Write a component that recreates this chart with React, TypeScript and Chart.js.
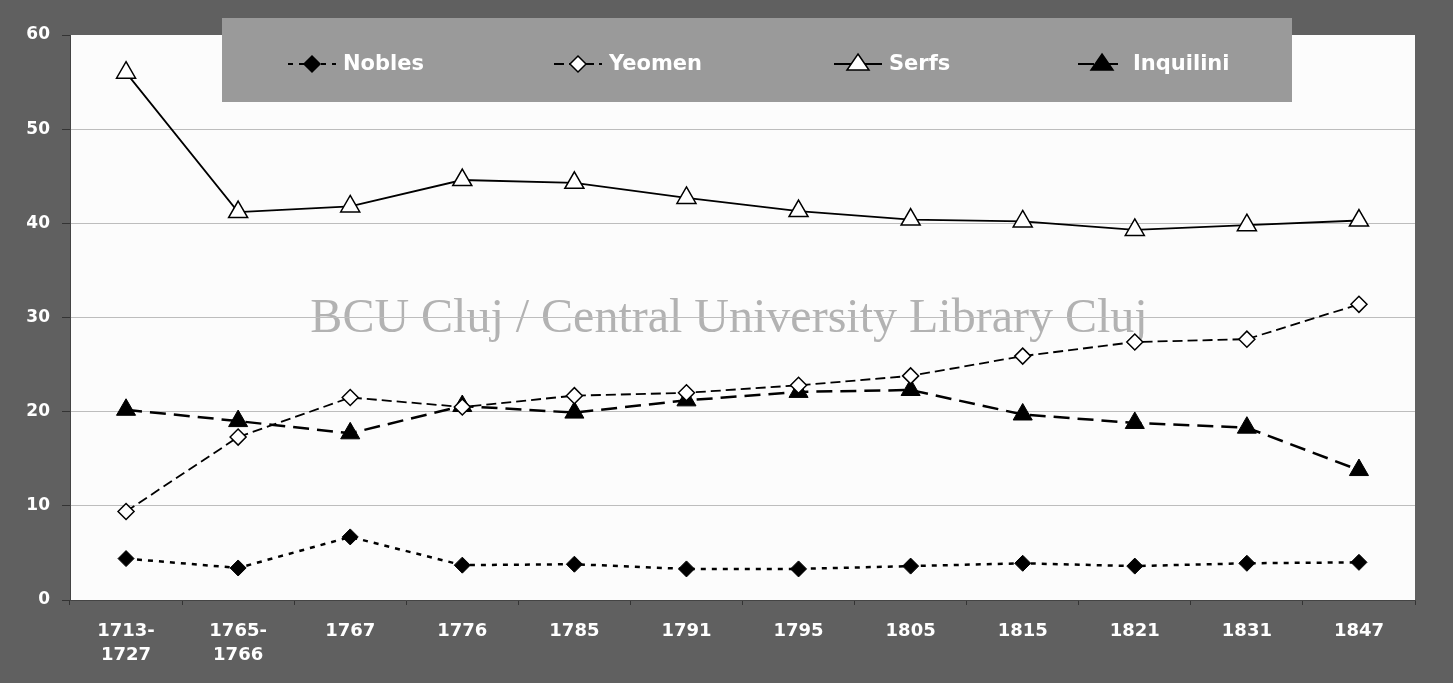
import React, { useEffect, useRef } from "react";
import { Chart, registerables } from "chart.js";

Chart.register(...registerables);

const categories: (string | string[])[] = [
  ["1713-", "1727"], ["1765-", "1766"], "1767", "1776", "1785", "1791",
  "1795", "1805", "1815", "1821", "1831", "1847",
];
const nobles = [4.4, 3.4, 6.7, 3.7, 3.8, 3.3, 3.3, 3.6, 3.9, 3.6, 3.9, 4.0];
const yeomen = [9.4, 17.3, 21.5, 20.5, 21.7, 22.0, 22.8, 23.8, 25.9, 27.4, 27.7, 31.4];
const serfs = [56.0, 41.2, 41.8, 44.6, 44.3, 42.7, 41.3, 40.4, 40.2, 39.3, 39.8, 40.3];
const inquilini = [20.2, 19.0, 17.7, 20.6, 19.9, 21.2, 22.1, 22.3, 19.7, 18.8, 18.3, 13.8];
const yTicks = [0, 10, 20, 30, 40, 50, 60];
const watermark = "BCU Cluj / Central University Library Cluj";

const W = 1453;
const H = 683;

const bgPlugin = {
  id: "bgPlugin",
  beforeDraw(chart: any) {
    const { ctx, chartArea } = chart;
    ctx.save();
    ctx.fillStyle = "#606060";
    ctx.fillRect(0, 0, chart.width, chart.height);
    ctx.fillStyle = "#fcfcfc";
    ctx.fillRect(chartArea.left, chartArea.top, chartArea.right - chartArea.left, chartArea.bottom - chartArea.top);
    ctx.font = "48px 'Liberation Serif', 'Times New Roman', serif";
    ctx.fillStyle = "rgba(150,150,150,0.72)";
    ctx.textAlign = "center";
    ctx.textBaseline = "alphabetic";
    ctx.fillText(watermark, 729, 332);
    ctx.restore();
  },
};

const legendPlugin = {
  id: "customLegend",
  afterDraw(chart: any) {
    const { ctx } = chart;
    ctx.save();
    ctx.fillStyle = "#9a9a9a";
    ctx.fillRect(222, 18, 1070, 84);
    const itemX = [312, 578, 858, 1102];
    const y = 64;
    chart.data.datasets.forEach((ds: any, i: number) => {
      const cx = itemX[i];
      ctx.strokeStyle = "#000";
      ctx.lineWidth = 2;
      ctx.setLineDash(ds.borderDash || []);
      ctx.beginPath();
      ctx.moveTo(cx - 24, y);
      ctx.lineTo(cx + 24, y);
      ctx.stroke();
      ctx.setLineDash([]);
      const r = ds.pointStyle === "triangle" ? 10 : 8;
      drawMarker(ctx, ds.pointStyle, cx, y, r, ds.pointBackgroundColor);
      ctx.fillStyle = "#ffffff";
      ctx.font = "bold 21px 'DejaVu Sans', Verdana, sans-serif";
      ctx.textAlign = "left";
      ctx.textBaseline = "middle";
      ctx.fillText(ds.label, cx + 31, y + 1);
    });
    ctx.restore();
  },
};

function drawMarker(ctx: CanvasRenderingContext2D, style: string, x: number, y: number, r: number, fill: string) {
  ctx.beginPath();
  if (style === "triangle") {
    ctx.moveTo(x, y - r);
    ctx.lineTo(x + r * 1.1, y + r * 0.6);
    ctx.lineTo(x - r * 1.1, y + r * 0.6);
    ctx.closePath();
  } else {
    ctx.moveTo(x, y - r);
    ctx.lineTo(x + r, y);
    ctx.lineTo(x, y + r);
    ctx.lineTo(x - r, y);
    ctx.closePath();
  }
  ctx.fillStyle = fill;
  ctx.fill();
  ctx.strokeStyle = "#000";
  ctx.lineWidth = 1.5;
  ctx.stroke();
}

export default function App() {
  const ref = useRef<HTMLCanvasElement>(null);
  useEffect(() => {
    document.body.style.margin = "0";
    const chart = new Chart(ref.current as HTMLCanvasElement, {
      type: "line",
      data: {
        labels: categories,
        datasets: [
          {
            label: "Nobles",
            data: nobles,
            borderColor: "#000",
            borderWidth: 2.5,
            borderDash: [5, 6],
            pointStyle: "rectRot",
            pointRadius: 8,
            pointBackgroundColor: "#000",
            pointBorderColor: "#000",
            pointBorderWidth: 1,
          },
          {
            label: "Yeomen",
            data: yeomen,
            borderColor: "#000",
            borderWidth: 1.8,
            borderDash: [10, 5],
            pointStyle: "rectRot",
            pointRadius: 8,
            pointBackgroundColor: "#fff",
            pointBorderColor: "#000",
            pointBorderWidth: 1.5,
          },
          {
            label: "Serfs",
            data: serfs,
            borderColor: "#000",
            borderWidth: 1.8,
            borderDash: [],
            pointStyle: "triangle",
            pointRadius: 11,
            pointBackgroundColor: "#fff",
            pointBorderColor: "#000",
            pointBorderWidth: 1.5,
          },
          {
            label: "Inquilini",
            data: inquilini,
            borderColor: "#000",
            borderWidth: 2.5,
            borderDash: [16, 8],
            pointStyle: "triangle",
            pointRadius: 11,
            pointBackgroundColor: "#000",
            pointBorderColor: "#000",
            pointBorderWidth: 1,
          },
        ],
      },
      options: {
        animation: false,
        responsive: false,
        layout: { padding: { left: 0, right: 38, top: 35, bottom: 0 } },
        plugins: {
          legend: { display: false },
          tooltip: { enabled: false },
        },
        scales: {
          x: {
            offset: true,
            grid: {
              offset: true,
              drawOnChartArea: false,
              drawTicks: true,
              tickLength: 5,
              tickColor: "#333",
            },
            border: { display: true, color: "#444", width: 1 },
            ticks: {
              color: "#ffffff",
              padding: 14,
              maxRotation: 0,
              autoSkip: false,
              font: { family: "'DejaVu Sans', Verdana, sans-serif", size: 18, weight: "bold", lineHeight: 1.33 },
            },
            afterFit(scale: any) {
              scale.height = 83;
            },
          },
          y: {
            min: 0,
            max: 60,
            afterBuildTicks(scale: any) {
              scale.ticks = yTicks.map((v) => ({ value: v }));
            },
            grid: {
              color: (c: any) => (c.tick && (c.tick.value === 0 || c.tick.value === 60) ? "rgba(0,0,0,0)" : "#bdbdbd"),
              tickColor: "#333",
              tickLength: 8,
              lineWidth: 1,
            },
            border: { display: true, color: "#444", width: 1 },
            ticks: {
              color: "#ffffff",
              padding: 12,
              font: { family: "'DejaVu Sans', Verdana, sans-serif", size: 17, weight: "bold" },
            },
            afterFit(scale: any) {
              scale.width = 70;
            },
          },
        },
      },
      plugins: [bgPlugin, legendPlugin],
    } as any);
    return () => chart.destroy();
  }, []);
  return (
    <div style={{ width: W, height: H }}>
      <canvas ref={ref} width={W} height={H} style={{ display: "block", width: W, height: H }} />
    </div>
  );
}
